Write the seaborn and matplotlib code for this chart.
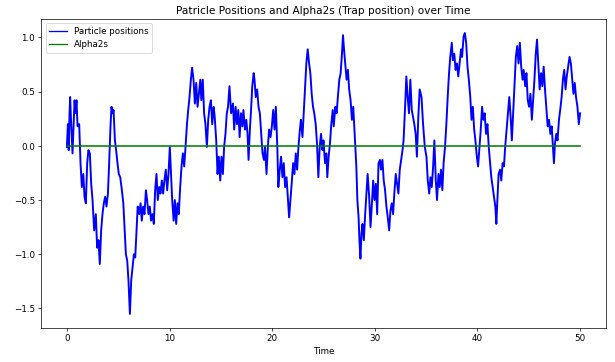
import matplotlib
matplotlib.use("Agg")
import matplotlib.pyplot as plt
import seaborn as sns
import numpy as np

# Sampled trajectory of the particle (time, position)
time = [
    0.0, 0.1, 0.18, 0.26, 0.32, 0.42, 0.55, 0.65, 0.75, 0.84, 0.94, 1.04, 1.2, 1.33, 1.46, 1.6,
    1.72, 1.85, 1.98, 2.1, 2.24, 2.37, 2.5, 2.66, 2.82, 2.95, 3.08, 3.21, 3.34, 3.47, 3.6, 3.73,
    3.86, 4.0, 4.12, 4.25, 4.35, 4.45, 4.55, 4.68, 4.8, 4.93, 5.06, 5.2, 5.36, 5.5, 5.62, 5.75,
    5.88, 6.0, 6.14, 6.27, 6.4, 6.53, 6.66, 6.8, 6.9, 7.05, 7.18, 7.3, 7.43, 7.56, 7.7, 7.82,
    7.95, 8.08, 8.2, 8.34, 8.47, 8.6, 8.73, 8.86, 9.0, 9.12, 9.25, 9.38, 9.5, 9.64, 9.77, 9.9,
    10.03, 10.13, 10.26, 10.4, 10.52, 10.65, 10.78, 10.9, 11.04, 11.17, 11.3, 11.43, 11.56, 11.7,
    11.82, 11.95, 12.08, 12.2, 12.34, 12.47, 12.6, 12.73, 12.86, 13.0, 13.1, 13.24, 13.37, 13.5,
    13.64, 13.77, 13.9, 14.03, 14.16, 14.3, 14.4, 14.55, 14.68, 14.8, 14.94, 15.06, 15.2, 15.32,
    15.45, 15.58, 15.7, 15.84, 16.0, 16.18, 16.3, 16.44, 16.57, 16.7, 16.83, 16.96, 17.1, 17.2,
    17.35, 17.48, 17.6, 17.7, 17.83, 17.96, 18.06, 18.2, 18.28, 18.4, 18.54, 18.67, 18.8, 18.93,
    19.06, 19.2, 19.3, 19.45, 19.58, 19.7, 19.84, 19.97, 20.1, 20.23, 20.36, 20.5, 20.6, 20.74,
    20.87, 21.0, 21.13, 21.26, 21.4, 21.52, 21.65, 21.78, 21.9, 22.04, 22.17, 22.3, 22.43, 22.56,
    22.7, 22.8, 22.95, 23.07, 23.2, 23.33, 23.46, 23.6, 23.72, 23.85, 23.98, 24.1, 24.24, 24.37,
    24.5, 24.63, 24.76, 24.9, 25.0, 25.15, 25.28, 25.37, 25.5, 25.63, 25.76, 25.9, 26.0, 26.15,
    26.28, 26.4, 26.54, 26.67, 26.8, 26.9, 27.0, 27.12, 27.25, 27.38, 27.5, 27.64, 27.77, 27.9,
    28.0, 28.1, 28.2, 28.3, 28.42, 28.5, 28.6, 28.7, 28.8, 28.93, 29.06, 29.2, 29.3, 29.45,
    29.58, 29.7, 29.84, 29.97, 30.1, 30.23, 30.36, 30.5, 30.6, 30.74, 30.87, 31.0, 31.13, 31.26,
    31.4, 31.52, 31.65, 31.78, 31.9, 32.04, 32.17, 32.3, 32.43, 32.56, 32.7, 32.8, 32.95, 33.07,
    33.2, 33.33, 33.46, 33.6, 33.72, 33.85, 33.98, 34.1, 34.24, 34.37, 34.55, 34.7, 34.87, 35.03,
    35.16, 35.3, 35.42, 35.55, 35.68, 35.8, 35.94, 36.06, 36.2, 36.32, 36.45, 36.58, 36.7, 36.84,
    36.97, 37.1, 37.23, 37.35, 37.5, 37.6, 37.74, 37.87, 38.0, 38.13, 38.26, 38.4, 38.5, 38.65,
    38.77, 38.9, 39.03, 39.16, 39.3, 39.42, 39.55, 39.68, 39.8, 39.94, 40.06, 40.2, 40.32, 40.45,
    40.58, 40.7, 40.84, 40.97, 41.1, 41.23, 41.35, 41.48, 41.6, 41.74, 41.84, 41.94, 42.06, 42.2,
    42.32, 42.45, 42.58, 42.7, 42.84, 42.97, 43.1, 43.23, 43.35, 43.48, 43.6, 43.74, 43.87, 44.0,
    44.13, 44.26, 44.4, 44.5, 44.65, 44.77, 44.9, 45.03, 45.16, 45.3, 45.42, 45.55, 45.68, 45.8,
    45.94, 46.06, 46.2, 46.32, 46.45, 46.58, 46.7, 46.84, 46.97, 47.1, 47.23, 47.35, 47.45, 47.55,
    47.68, 47.8, 47.94, 48.06, 48.2, 48.32, 48.45, 48.58, 48.7, 48.84, 48.97, 49.1, 49.23, 49.35,
    49.48, 49.6, 49.74, 49.87, 50.0,
]

positions = [
    -0.01, 0.2, -0.04, 0.3, 0.45, 0.2, -0.07, 0.18, 0.42, 0.3, 0.42, 0.18, 0.2, -0.16, -0.38, -0.26,
    -0.47, -0.53, -0.16, -0.04, -0.07, -0.35, -0.5, -0.78, -0.63, -0.94, -0.87, -1.09, -0.78, -0.63, -0.53, -0.47,
    -0.56, -0.44, -0.16, 0.18, 0.36, 0.3, 0.33, 0.05, -0.04, -0.16, -0.26, -0.29, -0.41, -0.53, -0.75, -1.0,
    -1.06, -1.24, -1.55, -1.24, -1.12, -1.0, -1.03, -0.75, -0.56, -0.63, -0.53, -0.69, -0.56, -0.63, -0.41, -0.5,
    -0.63, -0.56, -0.69, -0.63, -0.72, -0.41, -0.26, -0.5, -0.38, -0.44, -0.32, -0.44, -0.32, -0.22, -0.41, -0.26,
    -0.01, -0.22, -0.5, -0.69, -0.5, -0.72, -0.53, -0.63, -0.38, -0.19, -0.07, -0.19, -0.01, 0.2,
    0.33, 0.45, 0.61, 0.72, 0.61, 0.39, 0.58, 0.36, 0.48, 0.61, 0.42, 0.61, 0.3, 0.2,
    -0.01, 0.24, 0.36, 0.42, 0.2, 0.36, 0.27, 0.05, -0.26, -0.1, -0.32, -0.1, -0.26, -0.01,
    0.11, 0.3, 0.36, 0.55, 0.3, 0.39, 0.15, 0.36, 0.2, 0.33, 0.08, 0.3, 0.18, 0.33,
    0.15, 0.24, 0.11, -0.13, 0.15, 0.36, 0.55, 0.67, 0.61, 0.45, 0.52, 0.36, 0.3, 0.11,
    -0.07, -0.13, -0.01, -0.26, -0.01, 0.15, 0.08, 0.18, 0.33, 0.15, 0.36, -0.01, -0.38, -0.22,
    -0.1, -0.29, -0.16, -0.38, -0.29, -0.47, -0.66, -0.5, -0.35, -0.16, -0.26, -0.07, -0.22, -0.01,
    0.15, 0.24, 0.08, 0.3, 0.55, 0.76, 0.89, 0.76, 0.67, 0.48, 0.36, 0.3, 0.2, 0.02,
    -0.29, -0.01, 0.11, -0.04, 0.05, -0.16, -0.07, -0.29, -0.1, 0.02, 0.2, 0.33, 0.18, 0.36,
    0.3, 0.45, 0.61, 0.67, 0.85, 1.02, 0.89, 0.76, 0.61, 0.7, 0.52, 0.42, 0.24, 0.36,
    0.18, -0.01, -0.19, -0.5, -0.66, -0.87, -1.04, -0.81, -0.72, -0.87, -0.63, -0.41, -0.26, -0.47,
    -0.75, -0.56, -0.32, -0.5, -0.35, -0.63, -0.16, -0.13, -0.22, -0.13, -0.32, -0.41, -0.56, -0.66,
    -0.78, -0.6, -0.53, -0.63, -0.44, -0.26, -0.35, -0.44, -0.22, -0.13, -0.04, 0.05, 0.36, 0.64,
    0.45, 0.3, 0.61, 0.33, 0.27, 0.2, 0.11, -0.1, 0.27, 0.52, 0.45, 0.2, -0.01, -0.1,
    -0.32, -0.44, -0.29, -0.38, -0.19, 0.05, -0.32, -0.5, -0.26, -0.38, -0.22, -0.41, -0.16, -0.01,
    0.2, 0.45, 0.67, 0.82, 0.95, 0.79, 0.85, 0.7, 0.76, 0.64, 0.76, 0.89, 0.82, 1.01,
    1.04, 0.95, 0.73, 0.61, 0.45, 0.24, 0.36, 0.15, 0.05, -0.1, -0.19, -0.01, 0.15, 0.36,
    0.24, 0.3, 0.11, 0.2, -0.01, -0.16, -0.29, -0.38, -0.47, -0.56, -0.72, -0.5, -0.26, -0.22,
    -0.32, -0.16, -0.19, -0.01, 0.15, 0.3, 0.45, 0.27, 0.05, 0.3, 0.52, 0.82, 0.92, 0.76,
    0.95, 0.73, 0.61, 0.7, 0.55, 0.67, 0.42, 0.36, 0.48, 0.24, 0.42, 0.61, 0.85, 0.98,
    0.73, 0.52, 0.67, 0.55, 0.73, 0.52, 0.36, 0.18, 0.24, 0.11, 0.18, -0.01, -0.16, 0.02,
    0.11, 0.05, 0.24, 0.33, 0.45, 0.61, 0.7, 0.52, 0.64, 0.73, 0.82, 0.76, 0.61, 0.48,
    0.58, 0.45, 0.36, 0.2, 0.3,
]

# Trap position stays fixed at the origin
alpha2s = [0.0] * len(time)

DPI = 63.0
fig, ax = plt.subplots(figsize=(615 / DPI, 362.2 / DPI), dpi=DPI)

sns.lineplot(x=time, y=positions, color="blue", linewidth=2.2, sort=False,
             estimator=None, label="Particle positions", ax=ax)
sns.lineplot(x=time, y=alpha2s, color="green", linewidth=1.8, sort=False,
             estimator=None, label="Alpha2s", ax=ax)

ax.set_title("Patricle Positions and Alpha2s (Trap position) over Time")
ax.set_xlabel("Time")
leg = ax.legend(loc="upper left")
for handle in leg.get_lines():
    handle.set_linewidth(1.5)

fig.subplots_adjust(left=0.067, right=0.985, top=0.947, bottom=0.094)
fig.savefig("out.png", dpi=DPI)
